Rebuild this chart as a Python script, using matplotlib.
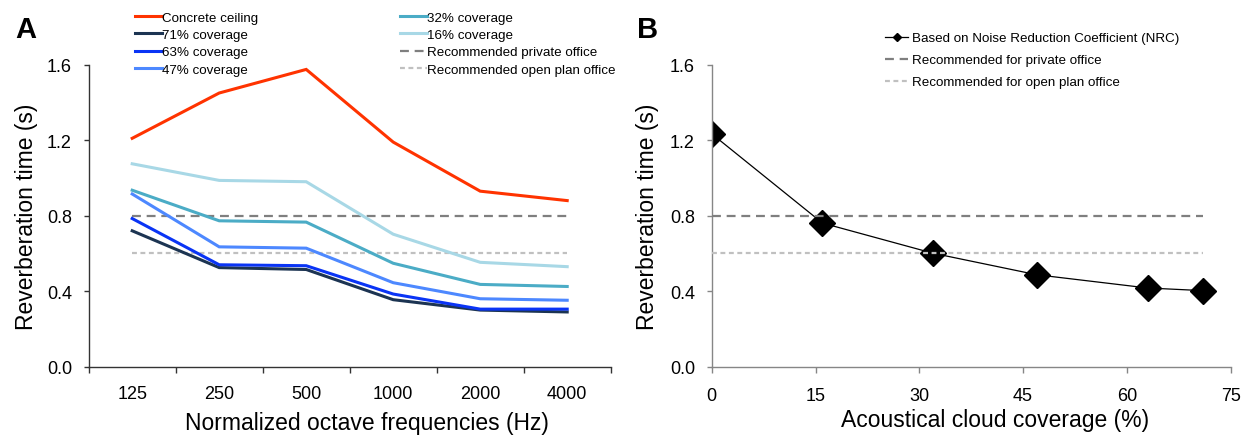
import matplotlib
matplotlib.use("Agg")
import matplotlib.pyplot as plt
from matplotlib.lines import Line2D

plt.rcParams['font.family'] = ['Liberation Sans', 'DejaVu Sans']

# ---------------- Data ----------------
freq_labels = ["125", "250", "500", "1000", "2000", "4000"]
concrete = [1.21, 1.45, 1.575, 1.19, 0.93, 0.88]
cov71 = [0.72, 0.525, 0.515, 0.355, 0.30, 0.29]
cov63 = [0.785, 0.54, 0.535, 0.385, 0.305, 0.305]
cov47 = [0.915, 0.635, 0.628, 0.445, 0.36, 0.352]
cov32 = [0.935, 0.773, 0.766, 0.548, 0.436, 0.425]
cov16 = [1.075, 0.987, 0.98, 0.702, 0.553, 0.53]
rec_private = 0.8
rec_open = 0.6

coverage = [0, 16, 32, 47, 63, 71]
rt_nrc = [1.234, 0.761, 0.601, 0.487, 0.417, 0.403]

series_names = ["Concrete ceiling", "71% coverage", "63% coverage", "47% coverage",
                "32% coverage", "16% coverage"]
series_vals = [concrete, cov71, cov63, cov47, cov32, cov16]
series_cols = ["#FF3300", "#1C3452", "#0A34F5", "#4D88FF", "#4BACC6", "#A8D8E6"]

W, H = 1248, 439
fig = plt.figure(figsize=(W / 100, H / 100), dpi=100)

def ax_rect(x0, x1, ytop, ybot):
    return [x0 / W, 1 - ybot / H, (x1 - x0) / W, (ybot - ytop) / H]

TICK_FS = 13
LABEL_FS = 16.5
PRIV_COL = "#7F7F7F"
OPEN_COL = "#C0C0C0"
priv_ls = (0, (4, 2.6))
open_ls = (0, (2.2, 1.6))

# ---------------- Panel A ----------------
axA = fig.add_axes(ax_rect(88.7, 610.7, 65.7, 367.7))
n = len(freq_labels)
xc = [i + 0.5 for i in range(n)]
axA.plot([xc[0], xc[-1]], [rec_private] * 2, color=PRIV_COL, lw=1.6, ls=priv_ls, zorder=1)
axA.plot([xc[0], xc[-1]], [rec_open] * 2, color=OPEN_COL, lw=1.6, ls=open_ls, zorder=1)
lines = []
for name, vals, col in zip(series_names, series_vals, series_cols):
    ln, = axA.plot(xc, vals, color=col, lw=2.2, solid_joinstyle='miter', zorder=2)
    lines.append(ln)
axA.set_xlim(0, n)
axA.set_ylim(0, 1.6)
axA.set_yticks([0, 0.4, 0.8, 1.2, 1.6])
axA.set_yticklabels(["0.0", "0.4", "0.8", "1.2", "1.6"])
axA.set_xticks(range(n + 1))
axA.set_xticklabels([""] * (n + 1))
axA.set_xticks(xc, minor=True)
axA.set_xticklabels(freq_labels, minor=True)
axA.tick_params(axis='x', which='major', length=4.3, width=1, color="#333333")
axA.tick_params(axis='x', which='minor', length=0, pad=13.5, labelsize=TICK_FS)
axA.tick_params(axis='y', length=3.6, width=1, pad=8.5, labelsize=TICK_FS, color="#333333")
for s in ["top", "right"]:
    axA.spines[s].set_visible(False)
for s in ["left", "bottom"]:
    axA.spines[s].set_color("#333333")
    axA.spines[s].set_linewidth(1)
axA.set_ylabel("Reverberation time (s)", fontsize=LABEL_FS)
axA.yaxis.set_label_coords(-0.097, 0.5)
axA.set_xlabel("Normalized octave frequencies (Hz)", fontsize=LABEL_FS)
axA.xaxis.set_label_coords(0.533, -0.148)

h_priv = Line2D([], [], color=PRIV_COL, lw=1.6, ls=priv_ls)
h_open = Line2D([], [], color=OPEN_COL, lw=1.6, ls=open_ls)
legA1 = fig.legend(lines[:4], series_names[:4], loc='upper left',
                   bbox_to_anchor=(135 / W, 1 - 12.5 / H), frameon=False, fontsize=9.6,
                   borderpad=0, borderaxespad=0, handlelength=2.0, handletextpad=0.05,
                   labelspacing=0.37)
legA2 = fig.legend(lines[4:] + [h_priv, h_open],
                   series_names[4:] + ["Recommended private office", "Recommended open plan office"],
                   loc='upper left', bbox_to_anchor=(400 / W, 1 - 12.5 / H), frameon=False,
                   fontsize=9.6, borderpad=0, borderaxespad=0, handlelength=2.0,
                   handletextpad=0.05, labelspacing=0.37)

fig.text(26 / W, 1 - 30 / H, "A", fontsize=21, fontweight='bold', ha='center', va='center')

# ---------------- Panel B ----------------
axB = fig.add_axes(ax_rect(711.7, 1230.7, 65.7, 367.7))
hn, = axB.plot(coverage, rt_nrc, color='black', lw=0.9, marker='D', markersize=13,
               markerfacecolor='black', markeredgecolor='black', zorder=2)
hp, = axB.plot([coverage[0], coverage[-1]], [rec_private] * 2, color=PRIV_COL, lw=1.6,
               ls=priv_ls, zorder=3)
ho, = axB.plot([coverage[0], coverage[-1]], [rec_open] * 2, color=OPEN_COL, lw=1.6,
               ls=open_ls, zorder=3)
axB.set_xlim(0, 75)
axB.set_ylim(0, 1.6)
axB.set_xticks([0, 15, 30, 45, 60, 75])
axB.set_yticks([0, 0.4, 0.8, 1.2, 1.6])
axB.set_yticklabels(["0.0", "0.4", "0.8", "1.2", "1.6"])
axB.tick_params(axis='x', length=4, width=1, pad=10.5, labelsize=TICK_FS, color="#868686")
axB.tick_params(axis='y', length=3.6, width=1, pad=8.5, labelsize=TICK_FS, color="#868686")
for s in ["top", "right"]:
    axB.spines[s].set_visible(False)
for s in ["left", "bottom"]:
    axB.spines[s].set_color("#868686")
    axB.spines[s].set_linewidth(1)
axB.set_ylabel("Reverberation time (s)", fontsize=LABEL_FS)
axB.yaxis.set_label_coords(-0.102, 0.5)
axB.set_xlabel("Acoustical cloud coverage (%)", fontsize=LABEL_FS)
axB.xaxis.set_label_coords(0.546, -0.138)

h_nrc = Line2D([], [], color='black', lw=0.9, marker='D', markersize=4.5)
legB = fig.legend([h_nrc, hp, ho],
                  ["Based on Noise Reduction Coefficient (NRC)", "Recommended for private office",
                   "Recommended for open plan office"],
                  loc='upper left', bbox_to_anchor=(885 / W, 1 - 33 / H), frameon=False,
                  fontsize=9.6, borderpad=0, borderaxespad=0, handlelength=1.75,
                  handletextpad=0.25, labelspacing=0.72)

fig.text(648 / W, 1 - 30 / H, "B", fontsize=21, fontweight='bold', ha='center', va='center')

fig.savefig("out.png", dpi=100)
